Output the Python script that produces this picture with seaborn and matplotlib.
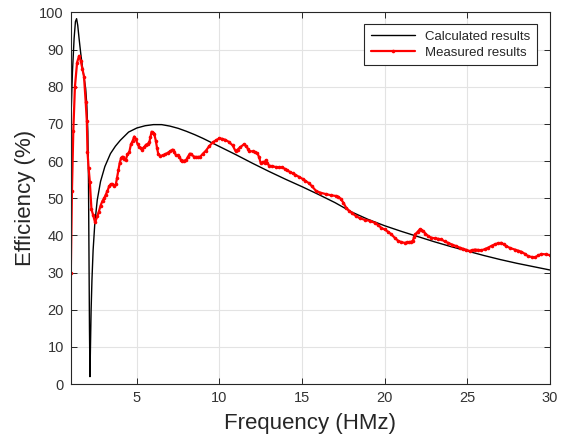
import matplotlib
matplotlib.use("Agg")
import pandas as pd
import matplotlib.pyplot as plt
import seaborn as sns

# Calculated efficiency curve
calc_freq = [1.0, 1.1, 1.2, 1.28, 1.35, 1.42, 1.5, 1.6, 1.7, 1.8, 1.9, 1.97, 2.03, 2.07, 2.1,
             2.13, 2.16, 2.19, 2.23, 2.28, 2.35, 2.45, 2.6, 2.8, 3.06, 3.4, 3.7, 4.0, 4.5, 5.0,
             5.5, 6.0, 6.5, 7.0, 7.5, 8.0, 8.5, 9.0, 9.5, 10.0, 11, 12, 13, 14, 15, 16, 17, 18,
             19, 20, 21, 22, 23, 24, 25, 26, 27, 28, 29, 30]
calc_eff = [70, 84, 93, 97.5, 98.3, 96.5, 93, 89, 85.5, 82.5, 79.5, 75, 68, 55, 35,
            15, 2, 10, 20, 28, 36, 43, 49.5, 54.5, 58.5, 62, 64, 65.6, 67.8, 68.9,
            69.5, 69.8, 69.8, 69.4, 68.8, 68.0, 67.1, 66.1, 65.0, 63.9, 61.7, 59.4, 57.2, 55.1, 53.1, 51.0, 48.8, 46.3,
            44.3, 42.6, 41.1, 39.7, 38.3, 37.0, 35.8, 34.6, 33.5, 32.5, 31.6, 30.7]

# Measured efficiency
meas_freq = [1.00, 1.07, 1.15, 1.25, 1.38, 1.50, 1.60, 1.70, 1.80, 1.90, 1.97, 2.01, 2.08, 2.15,
             2.25, 2.35, 2.47, 2.60, 2.70, 2.80, 2.92, 3.02, 3.12, 3.22, 3.32, 3.42, 3.52, 3.63,
             3.73, 3.80, 3.88, 3.96, 4.05, 4.13, 4.22, 4.33, 4.43, 4.54, 4.64, 4.74, 4.84, 4.94,
             5.04, 5.14, 5.24, 5.34, 5.45, 5.55, 5.65, 5.75, 5.82, 5.89, 5.98, 6.05, 6.15, 6.22,
             6.29, 6.40, 6.56, 6.70, 6.86, 7.00, 7.16, 7.26, 7.36, 7.47, 7.57, 7.65, 7.71, 7.85,
             7.97, 8.10, 8.20, 8.30, 8.45, 8.58, 8.72, 8.84, 9.00, 9.18, 9.38, 9.59, 9.79, 9.99,
             10.15, 10.36, 10.55, 10.8, 10.97, 11.1, 11.25, 11.48, 11.62, 11.72, 11.79, 12.0,
             12.13, 12.3, 12.4, 12.5, 12.63, 12.73, 12.8, 12.9, 13.0, 13.2, 13.4,
             13.6, 13.81, 13.95, 14.1, 14.25, 14.43, 14.6, 14.8, 15.03, 15.2, 15.43,
             15.6, 15.84, 16.1, 16.45, 16.75, 17.06, 17.2, 17.35, 17.5, 17.66, 17.85,
             18.05, 18.27, 18.5, 18.8, 19.1, 19.4, 19.6, 19.8,
             20.0, 20.2, 20.4, 20.6, 20.8, 21.0, 21.2, 21.35, 21.5, 21.6, 21.7, 21.78, 21.86,
             22.0, 22.12, 22.2, 22.32, 22.47, 22.63, 22.83, 23.03, 23.23, 23.43, 23.63, 23.84,
             24.1, 24.34, 24.55, 24.75, 24.95, 25.15, 25.3, 25.45, 25.65, 25.86, 26.06, 26.26,
             26.47, 26.67, 26.87, 27.07, 27.2, 27.37, 27.6, 27.88, 28.08, 28.28, 28.5, 28.69,
             28.9, 29.09, 29.3, 29.49, 29.75, 30.0]
meas_eff = [30, 52, 68, 80, 86.5, 88.3, 87, 84.8, 82.7, 76, 70.8, 62.5, 58, 54.5,
            47, 45.5, 43.5, 45.1, 46.4, 48, 49.3, 50, 51, 52, 53.2, 53.8, 53.7, 53.4,
            53.8, 55.5, 57.6, 59.5, 60.9, 61.2, 60.6, 60.4, 61.8, 62.4, 64.5, 65.4, 66.6, 65.8,
            64.6, 63.8, 63.4, 63.1, 63.8, 64.4, 64.6, 65, 66.5, 67.9, 67.6, 67.3, 65.4, 63.5,
            62, 61.4, 61.5, 61.8, 62.2, 62.6, 63.1, 62.4, 61.6, 61.6, 61.2, 60.4, 60, 60.1,
            60.2, 61.2, 62, 61.8, 61.2, 61.1, 61.1, 61.2, 62, 62.8, 64, 65, 65.6, 66.1,
            66, 65.7, 65.2, 64.2, 62.7, 63.1, 63.7, 64.5, 64.0, 63.3, 62.7, 62.6,
            62.4, 62.1, 61.0, 59.4, 59.8, 59.6, 60.2, 59.4, 58.8, 58.6, 58.4,
            58.3, 58.3, 57.9, 57.5, 57.1, 56.7, 56.3, 55.8, 55.2, 54.7, 54.0,
            53.2, 52.0, 51.5, 51.1, 50.8, 50.6, 50.4, 49.8, 48.8, 47.5, 46.6,
            45.9, 45.2, 44.6, 44.2, 43.9, 43.4, 42.8, 42.0,
            41.6, 41, 40.3, 39.4, 38.6, 38.2, 38, 38.1, 38.2, 38.3, 38.5, 39.5, 40.3,
            41, 41.6, 41.5, 41.2, 40.5, 39.8, 39.4, 39.2, 39.1, 38.9, 38.4, 38,
            37.5, 37.1, 36.7, 36.4, 36.1, 35.8, 36, 36.2, 36.1, 36, 36.3, 36.7,
            37.2, 37.6, 37.9, 38, 37.6, 37.1, 36.6, 36.2, 35.9, 35.6, 35, 34.4,
            34.2, 34.1, 34.6, 35, 34.9, 34.7]

x_ticks = [5, 10, 15, 20, 25, 30]
y_ticks = list(range(0, 101, 10))

calc = pd.DataFrame({"Frequency": calc_freq, "Efficiency": calc_eff})
meas = pd.DataFrame({"Frequency": meas_freq, "Efficiency": meas_eff})

sns.set_theme(style="whitegrid")
plt.rcParams['font.family'] = ['Liberation Sans', 'DejaVu Sans']
dark = "#262626"

fig, ax = plt.subplots(figsize=(5.71, 4.41), dpi=100)
fig.subplots_adjust(left=0.124, right=0.963, top=0.972, bottom=0.129)

sns.lineplot(data=calc, x="Frequency", y="Efficiency", color="black", linewidth=1.0,
             sort=False, label="Calculated results", ax=ax)
sns.lineplot(data=meas, x="Frequency", y="Efficiency", color="red", linewidth=1.6,
             marker="o", markersize=2.6, markeredgewidth=0, sort=False,
             label="Measured results", ax=ax)

ax.set_xlim(1, 30)
ax.set_ylim(0, 100)
ax.set_xticks(x_ticks)
ax.set_yticks(y_ticks)
ax.grid(True, color="#e3e3e3", linewidth=0.8)
ax.set_facecolor("white")
for sp in ax.spines.values():
    sp.set_color(dark)
    sp.set_linewidth(0.8)
ax.tick_params(direction="in", top=True, right=True, bottom=True, left=True,
               length=4, width=0.7, color=dark, labelsize=10.5, labelcolor="#333333", pad=5)

ax.set_xlabel("Frequency (HMz)", fontsize=16, color=dark, labelpad=6)
ax.set_ylabel("Efficiency (%)", fontsize=16, color=dark, labelpad=2)

leg = ax.legend(loc="upper right", bbox_to_anchor=(0.973, 0.969), borderaxespad=0,
                fontsize=9.5, handlelength=3.3, fancybox=False, framealpha=1,
                edgecolor=dark, borderpad=0.5, labelspacing=0.3)
leg.get_frame().set_linewidth(0.8)

fig.savefig("out.png", dpi=100)
